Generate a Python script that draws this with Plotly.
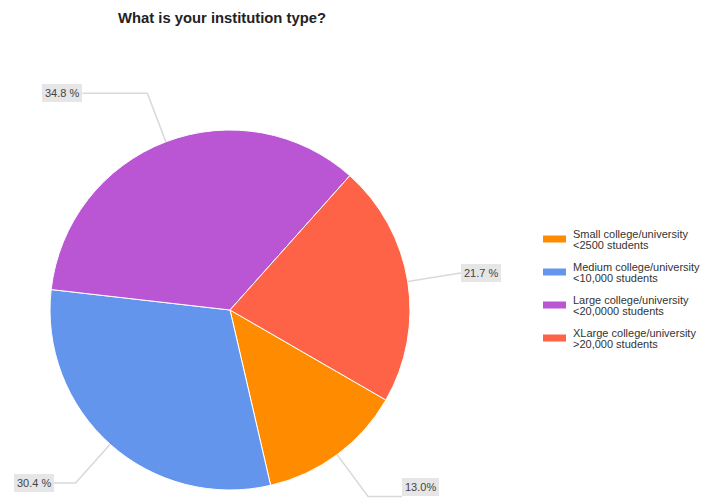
import math
import plotly.graph_objects as go

# ---- data ----
categories = [
    "Small college/university<br>&lt;2500 students",
    "Medium college/university<br>&lt;10,000 students",
    "Large college/university<br>&lt;20,0000 students",
    "XLarge college/university<br>&gt;20,000 students",
]
counts = [3, 7, 8, 5]
label_texts = ["13.0%", "30.4 %", "34.8 %", "21.7 %"]
colors = ["#FF8C00", "#6495ED", "#BA55D3", "#FF6347"]

# ---- layout / style constants (pixels) ----
W, H = 701, 500
CX, CY, R = 230, 310, 180
ROTATION = 120
LEADER_RADIAL = 52
LABEL_GAPS = [34, 22, 65, 2]
LEG_X0, LEG_Y0, LEG_DY = 543, 239, 33
SW_W, SW_H = 23, 7

def px(x):
    return x / W

def py(y):
    return 1 - y / H

fig = go.Figure()
fig.add_trace(go.Pie(
    labels=categories,
    values=counts,
    marker=dict(colors=colors, line=dict(color="white", width=1)),
    sort=False,
    direction="clockwise",
    rotation=ROTATION,
    textinfo="none",
    hoverinfo="label+percent",
    showlegend=False,
    domain=dict(x=[px(CX - R), px(CX + R)], y=[py(CY + R), py(CY - R)]),
))

shapes = []
annotations = []
total = sum(counts)
cum = 0
for i, v in enumerate(counts):
    mid = math.radians(ROTATION + 360 * (cum + v / 2) / total)
    cum += v
    sx, cy_ = math.sin(mid), -math.cos(mid)
    ex, ey = CX + R * sx, CY + R * cy_
    bx, by = CX + (R + LEADER_RADIAL) * sx, CY + (R + LEADER_RADIAL) * cy_
    right = sx >= 0
    lx = bx + LABEL_GAPS[i] if right else bx - LABEL_GAPS[i]
    ly = min(by, 487)
    shapes.append(dict(
        type="path", xref="paper", yref="paper",
        path=f"M {px(ex)},{py(ey)} L {px(bx)},{py(by)} L {px(lx)},{py(by)}",
        line=dict(color="#d9d9d9", width=1.5),
    ))
    annotations.append(dict(
        x=px(lx), y=py(ly), xref="paper", yref="paper",
        xanchor="left" if right else "right", yanchor="middle",
        text=label_texts[i], showarrow=False,
        font=dict(family="Arial, Liberation Sans", size=11, color="#444444"),
        bgcolor="#e6e6e6", bordercolor="#e6e6e6", borderwidth=1, borderpad=2,
    ))

# manual legend
for i, (cat, col) in enumerate(zip(categories, colors)):
    yc = LEG_Y0 + LEG_DY * i
    shapes.append(dict(
        type="rect", xref="paper", yref="paper",
        x0=px(LEG_X0), x1=px(LEG_X0 + SW_W),
        y0=py(yc + SW_H / 2), y1=py(yc - SW_H / 2),
        fillcolor=col, line=dict(width=0),
    ))
    lines = cat.split("<br>")
    for j, t in enumerate(lines):
        annotations.append(dict(
            x=px(LEG_X0 + SW_W + 5), y=py(yc - 5.5 + 11.5 * j),
            xref="paper", yref="paper", xanchor="left", yanchor="middle",
            text=t, showarrow=False,
            font=dict(family="Arial, Liberation Sans", size=11, color="#333333"),
        ))

fig.update_layout(
    width=W, height=H,
    margin=dict(l=0, r=0, t=0, b=0),
    paper_bgcolor="white",
    plot_bgcolor="white",
    title=dict(
        text="<b>What is your institution type?</b>",
        x=px(118), xanchor="left", xref="paper",
        y=py(18), yanchor="middle", yref="paper",
        font=dict(family="Arial, Liberation Sans", size=14.8, color="#222222"),
    ),
    shapes=shapes,
    annotations=annotations,
)

fig.write_html("out.html")
